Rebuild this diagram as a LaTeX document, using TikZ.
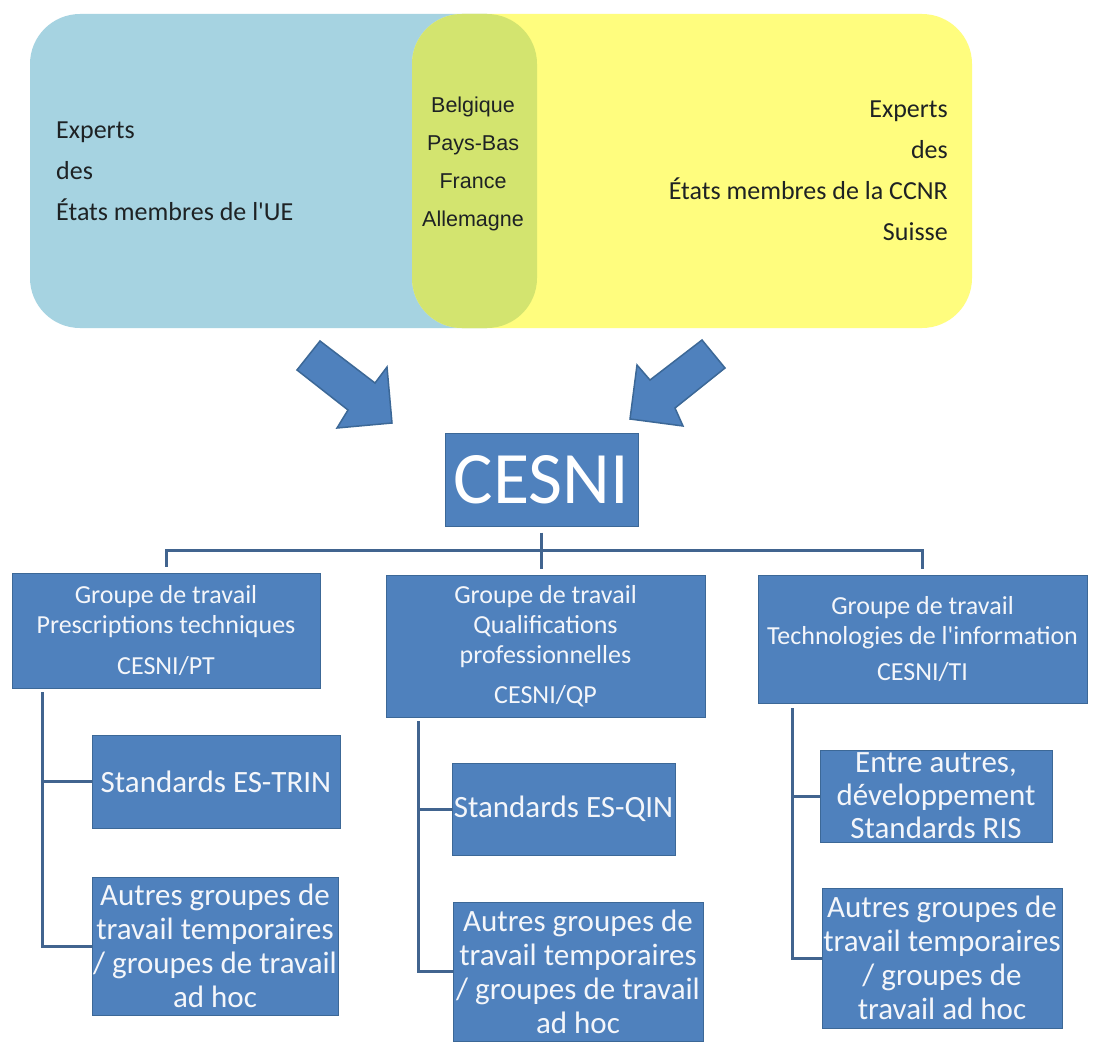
\documentclass[tikz,border=0pt]{standalone}
\usepackage{fontspec}
\setmainfont{Carlito}
\newfontfamily\arialfont{Liberation Sans}
\usepackage{tikz}
\usetikzlibrary{positioning}
\pgfdeclarelayer{edgelayer}
\pgfdeclarelayer{nodelayer}
\pgfsetlayers{edgelayer,nodelayer,main}
\definecolor{ueblue}{HTML}{A6D3E1}
\definecolor{ccnryellow}{HTML}{FFFD7E}
\definecolor{communvert}{HTML}{D3E46F}
\definecolor{boxblue}{HTML}{4F81BD}
\definecolor{edgeblue}{HTML}{3C6897}
\definecolor{lineblue}{HTML}{41648F}
\definecolor{boxtext}{HTML}{F4F6FA}
\definecolor{darktext}{HTML}{1E2224}
\tikzstyle{venntext}=[inner sep=0,text=darktext,font=\fontsize{26}{41}\selectfont]
\tikzstyle{cesni}=[rectangle,fill=boxblue,draw=edgeblue,line width=1,text=white,inner sep=0,minimum width=193,minimum height=93,font=\fontsize{74}{80}\selectfont]
\tikzstyle{groupe}=[rectangle,fill=boxblue,draw=edgeblue,line width=1,text=boxtext,align=center,inner sep=0,font=\fontsize{26}{30}\selectfont]
\tikzstyle{sousgroupe}=[groupe,font=\fontsize{31}{34}\selectfont]
\tikzstyle{branche}=[draw=lineblue,line width=3]
\tikzstyle{fleche}=[fill=boxblue,draw=edgeblue,line width=1.5,line join=miter]

\begin{document}
\begin{tikzpicture}[x=1pt,y=-1pt]
	\useasboundingbox (0,0) rectangle (1094,1041);
	\begin{pgfonlayer}{edgelayer}
		\fill [white] (0,0) rectangle (1094,1041);
		\fill [ueblue, rounded corners=50] (30,14) rectangle (537,328);
		\fill [ccnryellow, rounded corners=50] (412,14) rectangle (972,328);
		\begin{scope}
			\clip [rounded corners=50] (30,14) rectangle (537,328);
			\fill [communvert, rounded corners=50] (412,14) rectangle (972,328);
		\end{scope}
		\draw [style=fleche] (320,341) -- (375,383) -- (387,367) -- (392,423) -- (337,428) -- (348,410) -- (297,370) -- cycle;
		\draw [style=fleche] (702,340) -- (725,368) -- (675,408) -- (683,426) -- (630,419) -- (637,365) -- (650,380) -- cycle;
	\end{pgfonlayer}
	\begin{pgfonlayer}{nodelayer}
		\node [style=venntext, anchor=north west, align=left] (txtUE) at (56,121.6) {Experts\\des\\États membres de l\textquotesingle UE};
		\node [style=venntext, anchor=north, align=center, font=\arialfont\fontsize{21.5}{38.3}\selectfont] (txtCommun) at (473,96.3) {Belgique\\Pays-Bas\\France\\Allemagne};
		\node [style=venntext, anchor=north east, align=right] (txtCCNR) at (948,100.6) {Experts\\des\\États membres de la CCNR\\Suisse};
		\node [style=cesni] (CESNI) at (541.5,479.5) {CESNI};
		\node [style=groupe, minimum width=308, minimum height=115] (grpPT) at (166,630.5) {Groupe de travail\\Prescriptions techniques\\[11pt]CESNI/PT};
		\node [style=groupe, minimum width=319, minimum height=142] (grpQP) at (545.5,646) {Groupe de travail\\Qualifications\\professionnelles\\[10pt]CESNI/QP};
		\node [style=groupe, minimum width=329, minimum height=128] (grpTI) at (922.5,639) {Groupe de travail\\Technologies de l\textquotesingle information\\[6pt]CESNI/TI};
		\node [style=sousgroupe, minimum width=248, minimum height=93] (stdTRIN) at (216,781.5) {Standards ES-TRIN};
		\node [style=sousgroupe, minimum width=246, minimum height=138] (autresPT) at (215,946) {Autres groupes de\\travail temporaires\\/ groupes de travail\\ad hoc};
		\node [style=sousgroupe, minimum width=223, minimum height=92] (stdQIN) at (563.5,809) {Standards ES-QIN};
		\node [style=sousgroupe, minimum width=250, minimum height=139] (autresQP) at (578,971.5) {Autres groupes de\\travail temporaires\\/ groupes de travail\\ad hoc};
		\node [style=sousgroupe, minimum width=232, minimum height=92, font=\fontsize{31}{33}\selectfont] (stdRIS) at (936,796) {Entre autres,\\développement\\Standards RIS};
		\node [style=sousgroupe, minimum width=240, minimum height=140] (autresTI) at (942,958) {Autres groupes de\\travail temporaires\\/ groupes de\\travail ad hoc};
	\end{pgfonlayer}
	\begin{pgfonlayer}{edgelayer}
		\coordinate (barre) at (541.5,550);
		\coordinate (ptTrait) at (42,692);
		\coordinate (qpTrait) at (418,721);
		\coordinate (tiTrait) at (792,708);
		\draw [style=branche, shorten <=6pt, shorten >=6pt] (grpPT.north) |- (barre) -| (grpTI.north);
		\draw [style=branche, shorten <=6pt, shorten >=6pt] (CESNI.south) to (CESNI.south |- grpQP.north);
		\draw [style=branche] (ptTrait) |- (autresPT.west);
		\draw [style=branche] (ptTrait) |- (stdTRIN.west);
		\draw [style=branche] (qpTrait) |- (autresQP.west);
		\draw [style=branche] (qpTrait) |- (stdQIN.west);
		\draw [style=branche] (tiTrait) |- (autresTI.west);
		\draw [style=branche] (tiTrait) |- (stdRIS.west);
	\end{pgfonlayer}
\end{tikzpicture}
\end{document}
